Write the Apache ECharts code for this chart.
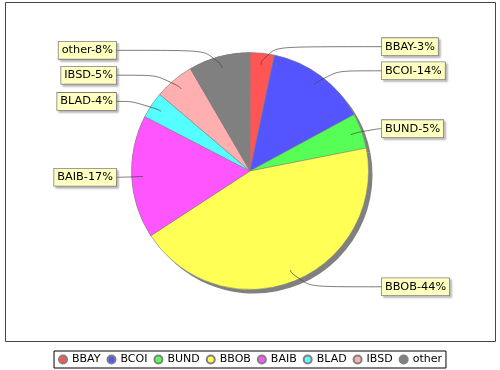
<!DOCTYPE html>
<html>
<head>
<meta charset="utf-8">
<script src="https://cdn.jsdelivr.net/npm/echarts@6/dist/echarts.min.js"></script>
<style>
html,body{margin:0;padding:0;background:#fff;}
#chart{width:500px;height:370px;}
</style>
</head>
<body>
<div id="chart"></div>
<script>
// Data
var categories = ['BBAY', 'BCOI', 'BUND', 'BBOB', 'BAIB', 'BLAD', 'IBSD', 'other'];
var values = [3.3, 13.8, 4.8, 43.9, 16.8, 3.6, 5.4, 8.4];
var sliceColors = ['#ff5555', '#5555ff', '#55ff55', '#ffff55', '#ff55ff', '#55ffff', '#ffafaf', '#808080'];

var FONT = 'DejaVu Sans';
var chart = echarts.init(document.getElementById('chart'), null, {renderer: 'canvas'});

var pieData = categories.map(function (c, i) { return {name: c, value: values[i]}; });

var CENTER = ['50%', 171];
var R = 118.5;
// horizontal offsets of the label columns from the pie centre
var LEFT_COL = -134;
var RIGHT_COL = 132;

var option = {
  animation: false,
  color: sliceColors,
  graphic: [{
    type: 'rect',
    shape: {x: 5.5, y: 2.5, width: 490, height: 339},
    style: {fill: 'none', stroke: '#444', lineWidth: 1},
    z: 0
  }],
  legend: {
    data: categories,
    bottom: 2,
    left: 'center',
    icon: 'circle',
    itemWidth: 8,
    itemHeight: 8,
    itemGap: 6,
    padding: [3, 4, 3, 4],
    borderColor: '#000',
    borderWidth: 1,
    borderRadius: 0,
    textStyle: {fontFamily: FONT, fontSize: 11, color: '#000'}
  },
  series: [
    {
      name: 'main',
      type: 'pie',
      center: CENTER,
      radius: R,
      startAngle: 90,
      clockwise: true,
      z: 3,
      silent: true,
      label: {show: false},
      labelLine: {show: false},
      itemStyle: {borderColor: '#808080', borderWidth: 0.5},
      emphasis: {disabled: true},
      data: pieData
    },
    {
      name: 'shadow',
      type: 'pie',
      center: CENTER,
      radius: R,
      startAngle: 90,
      z: 2,
      silent: true,
      label: {show: false},
      labelLine: {show: false},
      itemStyle: {color: '#808080', shadowColor: '#808080', shadowOffsetX: 4, shadowOffsetY: 4, shadowBlur: 0},
      emphasis: {disabled: true},
      data: pieData
    },
    {
      name: 'labels',
      type: 'pie',
      center: CENTER,
      radius: 107,
      startAngle: 90,
      z: 4,
      silent: true,
      itemStyle: {color: 'rgba(0,0,0,0)'},
      emphasis: {disabled: true},
      percentPrecision: 0,
      avoidLabelOverlap: true,
      label: {
        show: true,
        position: 'outside',
        formatter: '{b}-{d}%',
        fontFamily: FONT,
        fontSize: 11.3,
        color: '#000',
        backgroundColor: '#ffffc0',
        borderColor: '#808080',
        borderWidth: 0.8,
        padding: [3, 3, 3, 3],
        distanceToLabelLine: 0,
        shadowColor: 'rgba(120,120,120,0.45)',
        shadowOffsetX: 2,
        shadowOffsetY: 2,
        shadowBlur: 2
      },
      labelLine: {
        show: true,
        length: 18,
        length2: 10,
        smooth: 0.8,
        lineStyle: {color: '#444', width: 0.7}
      },
      labelLayout: function (p) {
        var pts = p.labelLinePoints;
        if (!pts || pts.length < 3) { return {}; }
        var cx = chart.getWidth() / 2;
        var left = pts[2][0] < cx;
        var tx = cx + (left ? LEFT_COL : RIGHT_COL);
        return {
          x: tx,
          align: left ? 'right' : 'left',
          labelLinePoints: [pts[0], pts[1], [tx, pts[2][1]]]
        };
      },
      data: pieData
    }
  ]
};
chart.setOption(option);
</script>
</body>
</html>
